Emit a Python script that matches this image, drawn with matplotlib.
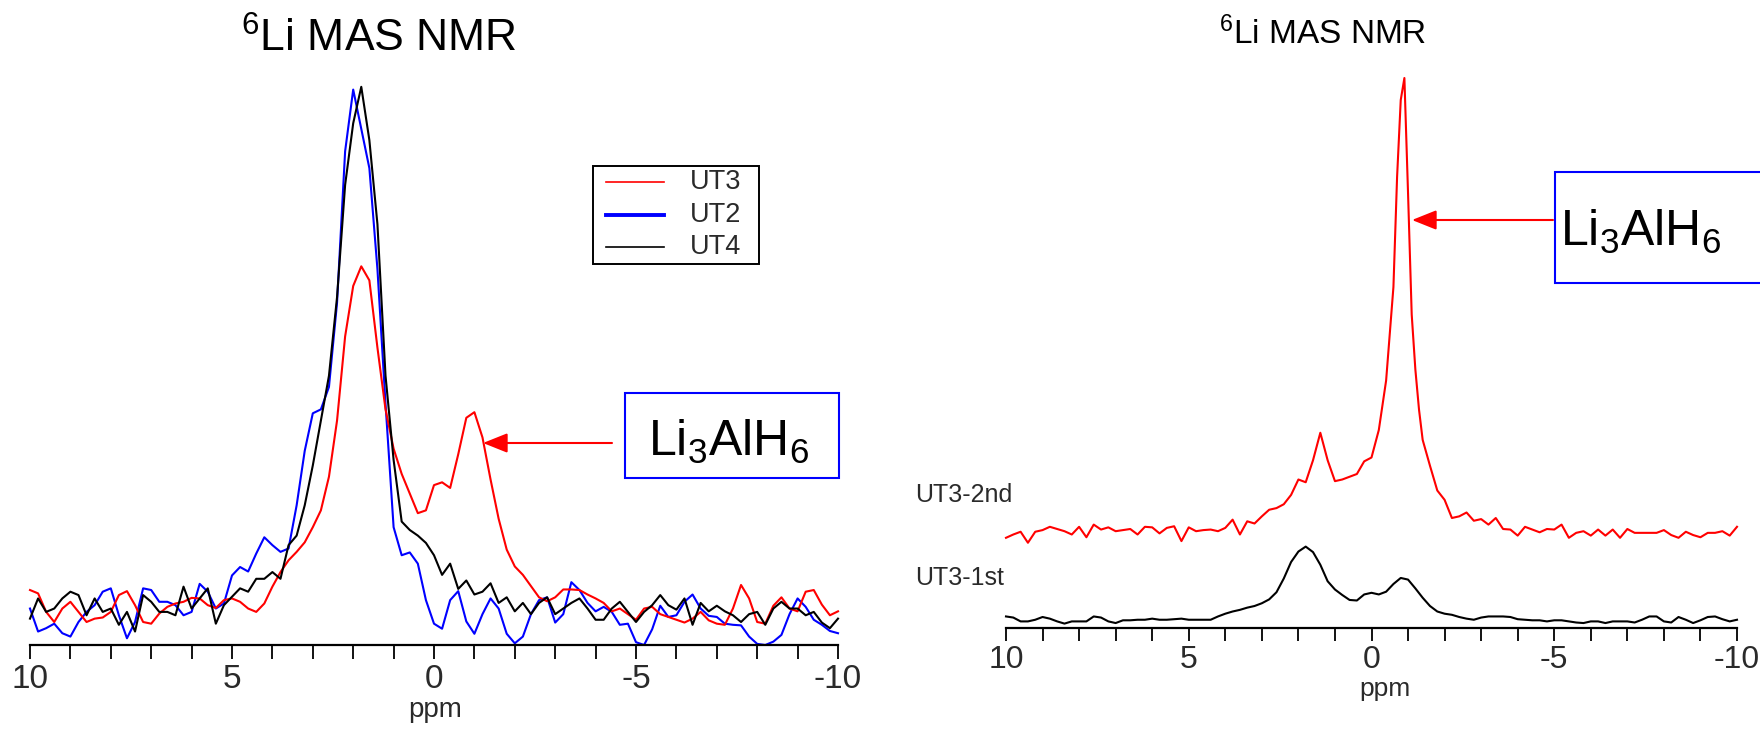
import matplotlib
matplotlib.use("Agg")
import matplotlib.pyplot as plt
import numpy as np
from matplotlib.lines import Line2D
from matplotlib.patches import Rectangle, FancyArrowPatch

plt.rcParams.update({
    "font.family": "Liberation Sans",
    "mathtext.fontset": "custom",
    "mathtext.rm": "Liberation Sans",
    "mathtext.it": "Liberation Sans:italic",
    "axes.unicode_minus": False,
})

# ---------- Data (intensities, arbitrary units) ----------
# chemical shift axis, 10 -> -10 ppm in 0.2 ppm steps
PPM = np.round(np.linspace(10, -10, 101), 1)

UT3 = [
    9.8, 9.2, 5.9, 4.1, 6.5, 7.7, 5.9, 4.1, 4.7, 4.9,
    5.9, 8.9, 9.6, 7.1, 4.1, 3.8, 5.6, 6.8, 7.4, 7.7,
    8.4, 8.3, 7.1, 6.6, 8.0, 8.3, 7.7, 6.5, 5.9, 7.4,
    10.4, 13.0, 15.1, 16.6, 18.3, 21.0, 24.0, 30.0, 40.0, 55.0,
    64.0, 67.5, 65.0, 53.0, 42.0, 35.0, 30.5, 27.0, 23.5, 24.0,
    28.5, 29.0, 28.0, 34.0, 40.5, 41.5, 37.0, 29.5, 22.5, 17.0,
    14.0, 12.5, 10.5, 8.5, 7.8, 8.5, 9.9, 9.9, 9.8, 9.0,
    8.3, 7.5, 6.0, 6.5, 5.5, 4.5, 6.5, 6.8, 5.5, 5.0,
    4.5, 4.0, 4.7, 5.9, 4.4, 3.8, 3.6, 6.5, 10.7, 8.3,
    4.1, 3.8, 7.0, 8.5, 6.5, 6.0, 9.5, 9.8, 7.2, 5.3,
    6.0,
]
UT2 = [
    6.5, 2.4, 3.0, 3.8, 2.1, 1.5, 4.1, 5.9, 7.1, 9.5,
    10.1, 5.3, 1.2, 4.1, 10.1, 9.8, 7.7, 7.7, 7.1, 5.3,
    5.9, 10.9, 9.5, 6.5, 7.4, 12.4, 13.9, 13.1, 16.3, 19.2,
    17.8, 16.6, 17.2, 24.9, 34.6, 41.3, 42.0, 46.0, 61.0, 88.0,
    99.0, 92.0, 85.0, 67.0, 43.0, 21.0, 16.0, 16.5, 14.5, 8.0,
    3.8, 2.9, 8.0, 9.6, 4.2, 2.0, 5.5, 8.3, 6.5, 2.0,
    0.3, 1.5, 5.5, 8.0, 8.5, 4.0, 5.5, 11.2, 9.8, 7.5,
    6.0, 6.8, 5.9, 3.6, 3.8, 0.5, 0.0, 2.8, 7.0, 5.0,
    5.3, 7.7, 9.0, 6.5, 5.2, 5.0, 3.8, 3.6, 3.5, 1.5,
    0.2, 0.0, 0.6, 1.8, 5.5, 8.3, 6.8, 4.5, 3.6, 2.5,
    2.1,
]
UT4 = [
    4.7, 8.3, 5.9, 6.5, 8.3, 9.5, 8.9, 5.3, 8.3, 5.9,
    6.5, 3.6, 5.9, 2.4, 8.9, 7.7, 5.9, 5.9, 5.3, 10.4,
    6.5, 8.3, 10.1, 3.8, 7.1, 8.6, 10.1, 9.5, 11.8, 11.8,
    13.0, 11.8, 17.8, 19.5, 24.9, 32.0, 40.0, 48.0, 62.0, 82.0,
    93.0, 99.5, 90.0, 75.0, 48.0, 33.0, 22.0, 20.5, 19.5, 18.2,
    16.0, 12.5, 14.5, 10.0, 11.5, 9.0, 9.5, 11.0, 7.5, 8.5,
    6.0, 7.5, 5.5, 7.5, 8.5, 5.5, 6.5, 7.5, 8.3, 6.5,
    4.5, 4.5, 6.5, 7.7, 5.9, 4.1, 5.9, 7.1, 8.9, 7.1,
    6.3, 8.3, 3.6, 7.5, 6.0, 7.0, 6.0, 5.3, 4.1, 5.5,
    5.9, 3.6, 6.5, 7.7, 6.5, 6.5, 5.3, 5.9, 4.0, 3.0,
    4.7,
]
LEGEND_LABELS = ["UT3", "UT2", "UT4"]

# right panel: second cycle has a sharp line, so it is sampled finer near -0.9 ppm
UT3_2ND_PPM = [
    10.0, 9.8, 9.6, 9.4, 9.2, 9.0, 8.8, 8.6, 8.4, 8.2,
    8.0, 7.8, 7.6, 7.4, 7.2, 7.0, 6.8, 6.6, 6.4, 6.2,
    6.0, 5.8, 5.6, 5.4, 5.2, 5.0, 4.8, 4.6, 4.4, 4.2,
    4.0, 3.8, 3.6, 3.4, 3.2, 3.0, 2.8, 2.6, 2.4, 2.2,
    2.0, 1.8, 1.6, 1.4, 1.2, 1.0, 0.8, 0.6, 0.4, 0.2,
    0.0, -0.2, -0.4, -0.6, -0.7, -0.8, -0.9, -1.0, -1.1, -1.2,
    -1.3, -1.4, -1.6, -1.8, -2.0, -2.2, -2.4, -2.6, -2.8, -3.0,
    -3.2, -3.4, -3.6, -3.8, -4.0, -4.2, -4.4, -4.6, -4.8, -5.0,
    -5.2, -5.4, -5.6, -5.8, -6.0, -6.2, -6.4, -6.6, -6.8, -7.0,
    -7.2, -7.4, -7.6, -7.8, -8.0, -8.2, -8.4, -8.6, -8.8, -9.0,
    -9.2, -9.4, -9.6, -9.8, -10.0,
]
UT3_2ND = [
    16.4, 17.0, 17.5, 15.5, 17.5, 17.8, 18.4, 18.0, 17.6, 17.0,
    18.4, 16.5, 18.8, 17.9, 18.3, 17.6, 17.8, 18.0, 17.0, 18.4,
    18.3, 17.2, 18.2, 18.5, 15.8, 18.3, 17.6, 17.8, 17.9, 17.6,
    18.2, 19.7, 17.0, 19.4, 19.0, 20.3, 21.5, 21.8, 22.5, 24.2,
    27.0, 26.5, 30.5, 35.5, 30.5, 26.7, 27.0, 27.5, 28.0, 30.3,
    31.0, 36.0, 45.0, 62.0, 82.0, 96.0, 100.0, 79.0, 57.0, 47.0,
    39.7, 34.2, 29.5, 25.0, 23.3, 20.0, 20.3, 21.0, 19.5, 19.8,
    18.8, 20.0, 18.0, 17.9, 16.8, 18.4, 17.9, 17.4, 18.0, 17.9,
    18.8, 16.4, 17.3, 17.6, 16.8, 17.9, 16.8, 17.9, 16.4, 18.0,
    17.3, 17.3, 17.3, 17.3, 17.8, 16.9, 16.4, 17.5, 16.9, 16.5,
    17.3, 17.3, 17.6, 16.8, 18.4,
]
UT3_1ST = [
    2.1, 1.9, 1.2, 1.2, 1.5, 2.0, 1.7, 1.2, 0.8, 1.2,
    1.2, 1.2, 2.1, 1.9, 1.2, 0.9, 1.4, 1.4, 1.5, 1.5,
    1.7, 1.5, 1.5, 1.6, 1.7, 1.5, 1.5, 1.5, 1.5, 2.1,
    2.6, 3.0, 3.3, 3.7, 4.0, 4.5, 5.2, 6.5, 9.0, 12.0,
    13.9, 14.8, 13.8, 11.5, 8.5, 7.0, 6.0, 5.1, 5.0, 6.1,
    6.4, 6.1, 6.6, 8.0, 9.1, 8.8, 7.2, 5.5, 4.0, 3.0,
    2.6, 2.4, 2.0, 1.7, 1.5, 1.9, 2.1, 2.1, 2.1, 2.0,
    1.6, 1.5, 1.4, 1.4, 1.2, 1.4, 1.4, 1.2, 1.0, 0.9,
    1.2, 1.2, 0.9, 1.2, 1.2, 1.2, 1.0, 1.5, 2.1, 2.1,
    1.2, 1.0, 2.0, 1.5, 0.9, 1.4, 2.0, 2.1, 1.6, 1.2,
    1.5,
]

TICK_POS = [10, 5, 0, -5, -10]
TICK_LABELS = ["10", "5", "0", "-5", "-10"]
MINOR_POS = [10, 9, 8, 7, 6, 5, 4, 3, 2, 1, 0,
             -1, -2, -3, -4, -5, -6, -7, -8, -9, -10]

RED, BLUE, BLACK = "#ff0000", "#0000ff", "#000000"
TEXT_GREY = "#2a2a2a"

W, H = 1760, 729


def fx(px):
    return px / W


def fy(py):
    return 1 - py / H


def style_axis(ax, tick_len, label_size, pad):
    for s in ("left", "top", "right"):
        ax.spines[s].set_visible(False)
    ax.spines["bottom"].set_linewidth(1.6)
    ax.set_xlim(10, -10)
    ax.set_ylim(0, 100)
    ax.set_yticks([])
    ax.set_xticks(TICK_POS)
    ax.set_xticklabels(TICK_LABELS)
    ax.set_xticks(MINOR_POS, minor=True)
    ax.tick_params(axis="x", which="both", direction="out", length=tick_len,
                   width=1.3, pad=pad)
    ax.tick_params(axis="x", which="major", labelsize=label_size,
                   labelcolor=TEXT_GREY)
    ax.patch.set_alpha(0)


def arrow(fig, tail, tip):
    fig.add_artist(FancyArrowPatch(
        (fx(tail[0]), fy(tail[1])), (fx(tip[0]), fy(tip[1])),
        transform=fig.transFigure, arrowstyle="-|>,head_length=0.75,head_width=0.3",
        mutation_scale=20, color=RED, lw=1.5, shrinkA=0, shrinkB=0))


def boxed_label(fig, box, text_xy):
    x0, y0, x1, y1 = box
    fig.add_artist(Rectangle((fx(x0), fy(y1)), fx(x1 - x0), (y1 - y0) / H,
                             transform=fig.transFigure, facecolor="white",
                             edgecolor=BLUE, lw=1.5))
    fig.text(fx(text_xy[0]), fy(text_xy[1]), r"Li$_3$AlH$_6$",
             ha="center", va="baseline", fontsize=36)


fig = plt.figure(figsize=(W / 100, H / 100), dpi=100)

# ---------- Left: UT2 / UT3 / UT4 ----------
axL = fig.add_axes([fx(30), fy(645), fx(808), (645 - 84) / H])
axL.plot(PPM, UT2, color=BLUE, lw=1.5, clip_on=False)
axL.plot(PPM, UT3, color=RED, lw=1.5, clip_on=False)
axL.plot(PPM, UT4, color=BLACK, lw=1.5, clip_on=False)
style_axis(axL, 10, 24, 4)

# legend drawn by hand so the box matches the original's tight rows
fig.add_artist(Rectangle((fx(593), fy(264)), fx(166), (264 - 166) / H,
                         transform=fig.transFigure, facecolor="white",
                         edgecolor="black", lw=1.4))
for label, color, lw, row_y in zip(LEGEND_LABELS, [RED, BLUE, BLACK],
                                   [1.2, 2.8, 1.2], [182, 214.5, 247]):
    fig.add_artist(Line2D([fx(606), fx(664)], [fy(row_y), fy(row_y)],
                          transform=fig.transFigure, color=color, lw=lw))
    fig.text(fx(690), fy(row_y), label, ha="left", va="center",
             fontsize=19.5, color=TEXT_GREY)

fig.text(fx(379), fy(39), r"$^{6}$Li MAS NMR", ha="center", va="center", fontsize=32)
fig.text(fx(435), fy(717), "ppm", ha="center", va="baseline", fontsize=20, color=TEXT_GREY)

boxed_label(fig, (625, 393, 839, 478), (729, 456))
arrow(fig, (612, 443), (483, 443))

# ---------- Right: UT3 1st vs 2nd ----------
axR = fig.add_axes([fx(1006), fy(628), fx(731), (628 - 78) / H])
axR.plot(UT3_2ND_PPM, UT3_2ND, color=RED, lw=1.5, clip_on=False)
axR.plot(PPM, UT3_1ST, color=BLACK, lw=1.5, clip_on=False)
style_axis(axR, 9, 23, 3)

fig.text(fx(1323), fy(34), r"$^{6}$Li MAS NMR", ha="center", va="center", fontsize=24)
fig.text(fx(1385), fy(696), "ppm", ha="center", va="baseline", fontsize=19, color=TEXT_GREY)
fig.text(fx(915), fy(495), "UT3-2nd", ha="left", va="center", fontsize=18, color=TEXT_GREY)
fig.text(fx(915), fy(578), "UT3-1st", ha="left", va="center", fontsize=18, color=TEXT_GREY)

boxed_label(fig, (1555, 172, 1775, 283), (1641, 246))
arrow(fig, (1553, 220), (1412, 220))

fig.savefig("out.png", dpi=100)
